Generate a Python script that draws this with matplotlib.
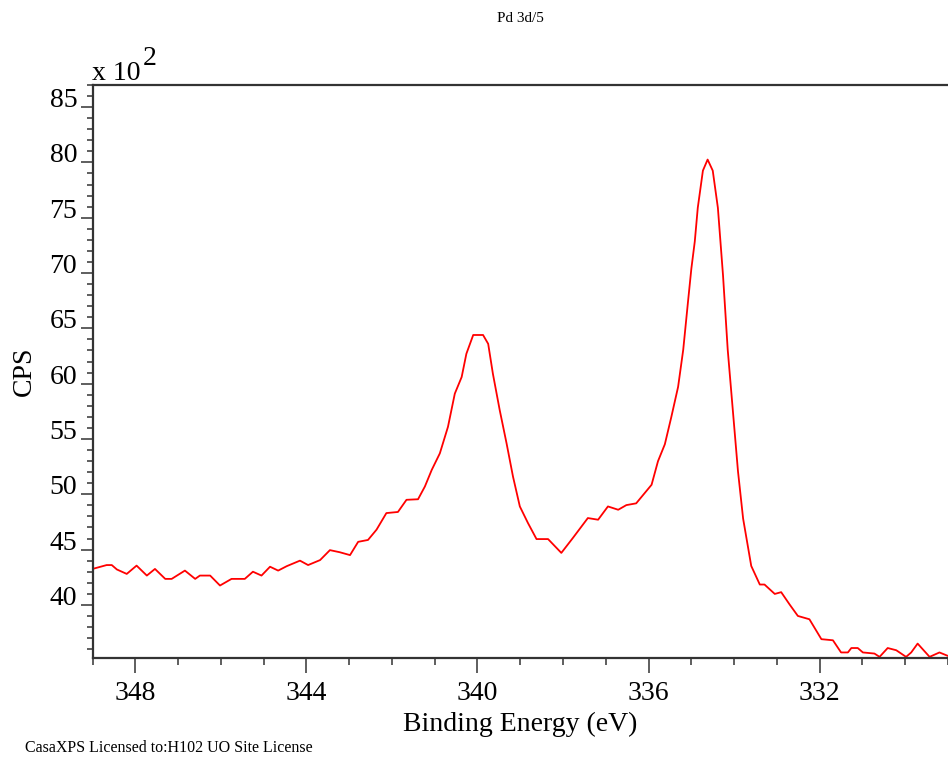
import matplotlib.pyplot as plt
from matplotlib.ticker import MultipleLocator

plt.rcParams['font.family'] = ['Liberation Serif', 'DejaVu Serif']

# binding energy (eV)
energy = [349.0, 348.67, 348.55, 348.43, 348.2, 347.97, 347.73, 347.54, 347.3, 347.15,
          346.84, 346.6, 346.49, 346.25, 346.02, 345.75, 345.44, 345.25, 345.05, 344.85,
          344.66, 344.46, 344.15, 343.96, 343.68, 343.45, 343.22, 342.98, 342.79, 342.56,
          342.36, 342.13, 341.86, 341.66, 341.39, 341.23, 341.07, 340.88, 340.69, 340.53,
          340.37, 340.26, 340.1, 339.87, 339.75, 339.64, 339.48, 339.32, 339.17, 339.01,
          338.82, 338.62, 338.35, 338.04, 337.77, 337.42, 337.18, 336.95, 336.71, 336.52,
          336.29, 335.93, 335.78, 335.62, 335.47, 335.31, 335.19, 335.08, 335.0, 334.92,
          334.85, 334.73, 334.62, 334.5, 334.38, 334.26, 334.15, 334.03, 333.91, 333.79,
          333.6, 333.4, 333.29, 333.05, 332.9, 332.7, 332.51, 332.24, 331.96, 331.69,
          331.5, 331.34, 331.26, 331.11, 330.99, 330.72, 330.6, 330.41, 330.21, 329.98,
          329.86, 329.71, 329.43, 329.2, 329.01]

# counts per second, in units of 10^2
cps = [43.25, 43.6, 43.6, 43.2, 42.8, 43.55, 42.65, 43.25, 42.35, 42.35,
       43.1, 42.35, 42.65, 42.65, 41.75, 42.35, 42.35, 43.0, 42.65, 43.45,
       43.1, 43.5, 44.0, 43.6, 44.05, 44.95, 44.76, 44.5, 45.7, 45.87,
       46.8, 48.3, 48.4, 49.5, 49.55, 50.7, 52.2, 53.7, 56.1, 59.1,
       60.6, 62.7, 64.4, 64.4, 63.6, 60.9, 57.6, 54.6, 51.6, 48.9,
       47.4, 45.95, 45.95, 44.7, 46.05, 47.85, 47.7, 48.9, 48.6, 49.02,
       49.18, 50.86, 52.99, 54.52, 56.96, 59.71, 63.07, 67.35, 70.4, 72.85,
       75.9, 79.26, 80.26, 79.26, 75.9, 69.8, 63.07, 57.57, 52.08, 47.8,
       43.52, 41.84, 41.84, 40.99, 41.15, 40.02, 39.0, 38.7, 36.9, 36.8,
       35.7, 35.7, 36.1, 36.1, 35.7, 35.6, 35.3, 36.1, 35.9, 35.3,
       35.7, 36.5, 35.3, 35.7, 35.4]

fig = plt.figure(figsize=(9.48, 7.59), dpi=100)
ax = fig.add_axes([0.0976, 0.1331, 0.9024, 0.7549])

ax.plot(energy, cps, color='red', lw=1.3)

ax.set_xlim(349, 329)
ax.set_ylim(35.2, 87.0)

ax.xaxis.set_major_locator(MultipleLocator(4))
ax.xaxis.set_minor_locator(MultipleLocator(1))
ax.yaxis.set_minor_locator(MultipleLocator(1))
ax.set_yticks(range(40, 86, 5))

tick_col = '#333333'
ax.tick_params(axis='x', which='major', direction='out', length=10.5, width=1.1,
               labelsize=20, color=tick_col, pad=6)
ax.tick_params(axis='x', which='minor', direction='out', length=5, width=1.1,
               color=tick_col)
ax.tick_params(axis='y', which='major', direction='out', length=8.5, width=1.1,
               labelsize=20, color=tick_col, pad=2.5)
ax.tick_params(axis='y', which='minor', direction='out', length=4.5, width=1.1,
               color=tick_col)
for lab in ax.get_yticklabels():
    lab.set_va('baseline')

for side in ['left', 'top', 'bottom']:
    ax.spines[side].set_linewidth(1.6)
    ax.spines[side].set_color(tick_col)
ax.spines['right'].set_visible(False)

fig.text(520 / 948, 1 - 731 / 759, 'Binding Energy (eV)', ha='center', va='baseline',
         fontsize=20)
fig.text(24 / 948, 1 - 371 / 759, 'CPS', rotation=90, ha='center', va='center',
         fontsize=20)
fig.text(92 / 948, 1 - 80 / 759, 'x 10', ha='left', va='baseline', fontsize=20)
fig.text(143 / 948, 1 - 65 / 759, '2', ha='left', va='baseline', fontsize=20)
fig.text(520 / 948, 1 - 18 / 759, 'Pd 3d/5', ha='center', va='center', fontsize=11)
fig.text(25 / 948, 1 - 748 / 759, 'CasaXPS Licensed to:H102 UO Site License',
         ha='left', va='center', fontsize=11.5)

fig.savefig('out.png', dpi=100)
